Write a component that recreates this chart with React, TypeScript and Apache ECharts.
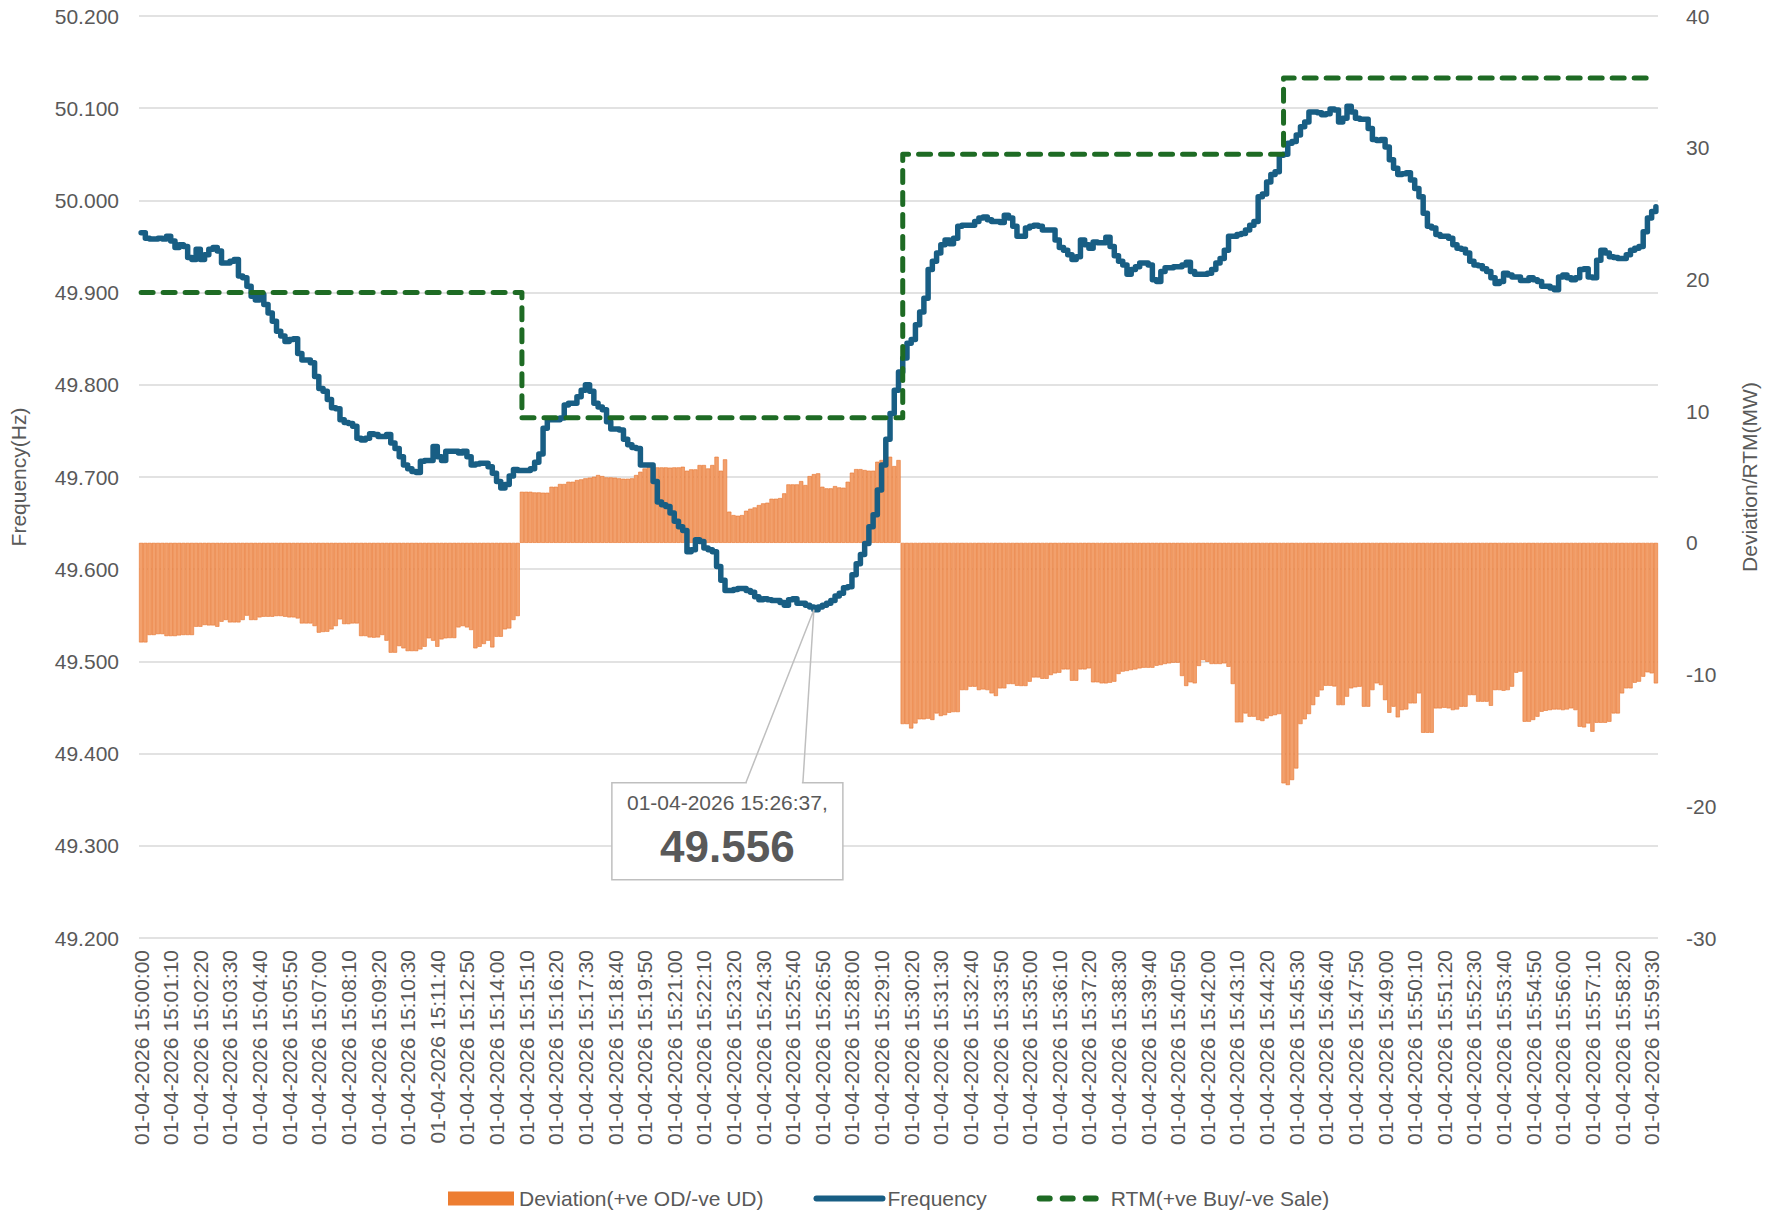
import React, { useEffect, useRef } from "react";
import * as echarts from "echarts";

// ---------- data ----------
const dateLabel = "01-04-2026";
const startHour = 15;
const slotSeconds = 10;

// Frequency (Hz), one value per 10-second slot from 15:00:00
const frequency: number[] = [
  49.965, 49.959, 49.958, 49.958, 49.959, 49.958, 49.961, 49.956, 49.949, 49.952,
  49.950, 49.938, 49.936, 49.947, 49.936, 49.941, 49.947, 49.949, 49.945, 49.932,
  49.932, 49.934, 49.936, 49.918, 49.916, 49.907, 49.896, 49.892, 49.898, 49.887,
  49.878, 49.869, 49.858, 49.853, 49.847, 49.849, 49.850, 49.834, 49.827, 49.827,
  49.824, 49.809, 49.796, 49.793, 49.784, 49.775, 49.774, 49.762, 49.759, 49.758,
  49.755, 49.742, 49.740, 49.742, 49.747, 49.746, 49.744, 49.744, 49.746, 49.737,
  49.731, 49.722, 49.713, 49.709, 49.706, 49.705, 49.717, 49.718, 49.718, 49.733,
  49.722, 49.718, 49.728, 49.728, 49.728, 49.726, 49.728, 49.722, 49.713, 49.714,
  49.715, 49.715, 49.711, 49.704, 49.695, 49.688, 49.692, 49.701, 49.708, 49.707,
  49.707, 49.707, 49.709, 49.716, 49.725, 49.753, 49.762, 49.762, 49.762, 49.764,
  49.778, 49.780, 49.780, 49.787, 49.794, 49.800, 49.793, 49.780, 49.776, 49.773,
  49.760, 49.752, 49.752, 49.751, 49.741, 49.735, 49.732, 49.731, 49.713, 49.713,
  49.713, 49.695, 49.673, 49.670, 49.668, 49.661, 49.652, 49.646, 49.642, 49.619,
  49.621, 49.632, 49.630, 49.623, 49.621, 49.619, 49.603, 49.588, 49.577, 49.577,
  49.578, 49.579, 49.579, 49.577, 49.575, 49.570, 49.567, 49.568, 49.567, 49.566,
  49.566, 49.564, 49.561, 49.567, 49.568, 49.563, 49.563, 49.561, 49.559, 49.556,
  49.559, 49.561, 49.563, 49.566, 49.571, 49.574, 49.580, 49.581, 49.594, 49.606,
  49.616, 49.628, 49.646, 49.659, 49.686, 49.713, 49.741, 49.769, 49.794, 49.814,
  49.829, 49.845, 49.849, 49.865, 49.879, 49.894, 49.925, 49.934, 49.943, 49.952,
  49.957, 49.953, 49.959, 49.972, 49.973, 49.973, 49.973, 49.977, 49.981, 49.982,
  49.979, 49.977, 49.977, 49.976, 49.984, 49.981, 49.972, 49.961, 49.961, 49.970,
  49.972, 49.973, 49.972, 49.968, 49.968, 49.968, 49.957, 49.949, 49.946, 49.941,
  49.936, 49.939, 49.957, 49.952, 49.948, 49.955, 49.954, 49.954, 49.960, 49.950,
  49.940, 49.934, 49.930, 49.920, 49.925, 49.928, 49.932, 49.932, 49.930, 49.914,
  49.912, 49.923, 49.927, 49.927, 49.928, 49.928, 49.930, 49.933, 49.923, 49.920,
  49.920, 49.920, 49.921, 49.925, 49.932, 49.937, 49.946, 49.961, 49.961, 49.963,
  49.964, 49.968, 49.973, 49.977, 50.004, 50.007, 50.020, 50.028, 50.031, 50.049,
  50.050, 50.062, 50.064, 50.071, 50.080, 50.085, 50.096, 50.096, 50.095, 50.093,
  50.094, 50.099, 50.098, 50.085, 50.089, 50.102, 50.096, 50.089, 50.088, 50.088,
  50.078, 50.066, 50.065, 50.066, 50.058, 50.044, 50.035, 50.028, 50.029, 50.030,
  50.022, 50.013, 50.004, 49.986, 49.972, 49.970, 49.963, 49.961, 49.961, 49.959,
  49.952, 49.948, 49.947, 49.943, 49.934, 49.930, 49.929, 49.926, 49.923, 49.916,
  49.910, 49.912, 49.921, 49.919, 49.917, 49.917, 49.913, 49.913, 49.916, 49.914,
  49.912, 49.907, 49.907, 49.905, 49.903, 49.917, 49.919, 49.916, 49.914, 49.916,
  49.925, 49.926, 49.917, 49.916, 49.935, 49.946, 49.943, 49.939, 49.938, 49.937,
  49.937, 49.941, 49.946, 49.948, 49.950, 49.966, 49.981, 49.988, 49.993,
];

// Deviation (MW), +ve over-drawal / -ve under-drawal
const deviation: number[] = [
  -7.56, -7.56, -7.00, -7.00, -6.93, -6.93, -7.08, -7.08, -7.08, -7.03,
  -7.00, -7.00, -7.00, -6.37, -6.37, -6.24, -6.27, -6.27, -6.37, -5.99,
  -5.86, -6.04, -6.04, -6.04, -5.86, -5.53, -5.86, -5.86, -5.66, -5.61,
  -5.61, -5.61, -5.56, -5.56, -5.61, -5.66, -5.66, -5.74, -6.12, -6.12,
  -6.12, -6.32, -6.82, -6.77, -6.75, -6.57, -6.32, -5.81, -6.17, -6.17,
  -6.12, -6.12, -7.08, -7.08, -7.18, -7.20, -7.18, -7.00, -7.43, -8.34,
  -8.34, -7.84, -8.01, -8.22, -8.22, -8.22, -8.09, -7.89, -7.25, -7.43,
  -7.89, -7.33, -7.25, -7.23, -7.23, -6.42, -6.32, -6.42, -6.62, -8.01,
  -7.89, -7.68, -7.43, -7.94, -7.13, -7.13, -6.57, -6.50, -5.86, -5.56,
  3.88, 3.88, 3.88, 3.83, 3.83, 3.81, 3.81, 4.26, 4.26, 4.47,
  4.47, 4.64, 4.64, 4.77, 4.82, 4.90, 4.95, 5.02, 5.15, 5.07,
  4.97, 4.97, 4.95, 4.90, 4.87, 4.87, 4.90, 5.15, 5.40, 5.65,
  5.78, 5.83, 5.73, 5.73, 5.73, 5.71, 5.73, 5.73, 5.78, 5.48,
  5.58, 5.58, 5.91, 5.91, 5.65, 5.91, 6.54, 5.48, 6.34, 2.37,
  2.11, 2.06, 2.11, 2.44, 2.59, 2.69, 2.87, 3.00, 3.05, 3.35,
  3.35, 3.40, 3.76, 4.44, 4.44, 4.44, 4.69, 4.39, 5.07, 5.22,
  5.28, 4.26, 4.14, 4.14, 4.31, 4.21, 4.19, 4.64, 5.33, 5.60,
  5.60, 5.53, 5.48, 5.48, 6.16, 6.29, 6.41, 6.54, 5.83, 6.29,
  -13.76, -13.76, -14.09, -13.71, -13.40, -13.40, -13.35, -13.45, -12.95, -13.15,
  -13.08, -12.90, -12.85, -12.85, -11.18, -11.18, -10.92, -10.92, -11.18, -11.13,
  -11.18, -11.43, -11.63, -11.05, -11.05, -10.72, -10.72, -10.85, -10.87, -10.87,
  -10.54, -10.22, -10.22, -10.32, -10.32, -10.04, -9.91, -9.86, -9.61, -9.61,
  -10.47, -10.47, -9.61, -9.61, -9.53, -10.59, -10.59, -10.67, -10.67, -10.62,
  -10.54, -9.96, -9.78, -9.73, -9.66, -9.61, -9.53, -9.48, -9.48, -9.48,
  -9.33, -9.28, -9.20, -9.15, -9.10, -9.10, -10.11, -10.87, -10.59, -10.67,
  -9.35, -8.90, -9.03, -9.20, -9.20, -9.20, -9.15, -9.41, -10.72, -13.63,
  -13.63, -12.95, -13.20, -13.20, -13.45, -13.53, -13.33, -13.15, -13.08, -13.00,
  -18.26, -18.39, -18.01, -17.13, -13.76, -13.40, -13.00, -12.32, -11.68, -11.20,
  -10.85, -10.85, -10.90, -12.32, -12.32, -11.68, -11.05, -10.97, -10.92, -12.44,
  -12.44, -11.18, -10.67, -10.80, -11.94, -12.90, -12.44, -13.25, -12.70, -12.65,
  -12.19, -12.19, -11.43, -14.42, -14.42, -14.42, -12.57, -12.57, -12.52, -12.57,
  -12.70, -12.65, -12.44, -12.44, -11.56, -11.56, -12.06, -12.06, -12.06, -12.37,
  -11.18, -11.18, -11.23, -11.18, -10.92, -9.86, -9.78, -13.58, -13.58, -13.45,
  -13.20, -12.82, -12.75, -12.70, -12.65, -12.65, -12.70, -12.65, -12.57, -12.70,
  -13.96, -14.01, -13.71, -14.34, -13.66, -13.66, -13.66, -13.58, -12.95, -12.95,
  -11.43, -11.05, -11.05, -10.62, -10.54, -10.16, -9.83, -9.91, -10.67,
];

// RTM schedule (MW), one value per 15-minute block
const rtmBlocks: number[] = [19, 9.5, 29.5, 35.3];
const slotsPerBlock = 90;

const freqAxis = { min: 49.2, max: 50.2, interval: 0.1 };
const mwAxis = { min: -30, max: 40, interval: 10 };

const seriesNames = ["Deviation(+ve OD/-ve UD)", "Frequency", "RTM(+ve Buy/-ve Sale)"];
const axisNames = ["Frequency(Hz)", "Deviation/RTM(MW)"];

const calloutIndex = 159;
const calloutTime = "01-04-2026 15:26:37";

// ---------- derived ----------
const pad = (n: number) => String(n).padStart(2, "0");
const categories = frequency.map((_, i) => {
  const s = i * slotSeconds;
  const h = startHour + Math.floor(s / 3600);
  const m = Math.floor((s % 3600) / 60);
  const sec = s % 60;
  return `${dateLabel} ${pad(h)}:${pad(m)}:${pad(sec)}`;
});
const rtm = frequency.map((_, i) => rtmBlocks[Math.min(rtmBlocks.length - 1, Math.floor(i / slotsPerBlock))]);

const FONT = "Liberation Sans, Arial, sans-serif";
const TEXT = "#595959";
const BLUE = "#185E84";
const GREEN = "#1E6B24";

export default function App() {
  const ref = useRef<HTMLDivElement>(null);
  useEffect(() => {
    if (!ref.current) return;
    const chart = echarts.init(ref.current, null, { renderer: "svg" });
    const option: any = {
      animation: false,
      backgroundColor: "#ffffff",
      textStyle: { fontFamily: FONT },
      grid: { left: 133, right: 111, top: 16, bottom: 281, containLabel: false },
      legend: {
        left: 443,
        top: 1183,
        itemWidth: 66,
        itemHeight: 14,
        itemGap: 50,
        textStyle: { color: TEXT, fontSize: 21, fontFamily: FONT },
        data: [
          { name: seriesNames[0], icon: "rect", itemStyle: { color: "#ED7D31", borderWidth: 0 } },
          { name: seriesNames[1], itemStyle: { opacity: 0 }, lineStyle: { width: 6, color: BLUE } },
          { name: seriesNames[2], itemStyle: { opacity: 0 }, lineStyle: { width: 6, color: GREEN, type: [10, 13], cap: "round" } },
        ],
      },
      xAxis: {
        type: "category",
        data: categories,
        boundaryGap: true,
        axisLine: { show: false },
        axisTick: { show: false },
        splitLine: { show: false },
        axisLabel: {
          interval: 6,
          rotate: 90,
          margin: 12,
          color: TEXT,
          fontSize: 21,
          fontFamily: FONT,
        },
      },
      yAxis: [
        {
          type: "value",
          min: freqAxis.min,
          max: freqAxis.max,
          interval: freqAxis.interval,
          name: axisNames[0],
          nameLocation: "middle",
          nameRotate: 90,
          nameGap: 110,
          nameTextStyle: { color: TEXT, fontSize: 21, fontFamily: FONT },
          axisLine: { show: false },
          axisTick: { show: false },
          splitLine: { show: true, lineStyle: { color: "#D9D9D9", width: 1.5 } },
          axisLabel: {
            margin: 20,
            color: TEXT,
            fontSize: 21,
            fontFamily: FONT,
            formatter: (v: number) => v.toFixed(3),
          },
        },
        {
          type: "value",
          position: "right",
          min: mwAxis.min,
          max: mwAxis.max,
          interval: mwAxis.interval,
          name: axisNames[1],
          nameLocation: "middle",
          nameRotate: 90,
          nameGap: 81,
          nameTextStyle: { color: TEXT, fontSize: 21, fontFamily: FONT },
          axisLine: { show: false },
          axisTick: { show: false },
          splitLine: { show: false },
          axisLabel: { margin: 28, color: TEXT, fontSize: 21, fontFamily: FONT },
        },
      ],
      series: [
        {
          name: seriesNames[0],
          type: "bar",
          yAxisIndex: 1,
          data: deviation,
          barCategoryGap: "0%",
          barGap: "0%",
          itemStyle: { color: "#F2A06C", borderColor: "#E8742E", borderWidth: 0.6 },
          z: 1,
        },
        {
          name: seriesNames[1],
          type: "line",
          yAxisIndex: 0,
          data: frequency,
          step: "end",
          showSymbol: false,
          symbol: "none",
          lineStyle: { color: BLUE, width: 5.5, cap: "round", join: "round" },
          itemStyle: { color: BLUE },
          z: 3,
        },
        {
          name: seriesNames[2],
          type: "line",
          yAxisIndex: 1,
          data: rtm,
          step: "end",
          showSymbol: false,
          symbol: "none",
          lineStyle: { color: GREEN, width: 5, type: [12, 10], cap: "round", join: "round" },
          itemStyle: { color: GREEN },
          z: 4,
        },
      ],
    };
    chart.setOption(option);

    const value = frequency[calloutIndex];
    const pt = chart.convertToPixel({ xAxisIndex: 0, yAxisIndex: 0 }, [calloutIndex, value]) as number[];
    const px = pt[0];
    const py = pt[1];
    const boxL = px - 202;
    const boxT = py + 173;
    const boxW = 231;
    const boxH = 97;
    chart.setOption({
      graphic: [
        {
          type: "rect",
          z: 100,
          shape: { x: boxL, y: boxT, width: boxW, height: boxH },
          style: { fill: "#ffffff", stroke: "#BFBFBF", lineWidth: 1.5 },
        },
        {
          type: "line",
          z: 101,
          shape: { x1: px - 67, y1: boxT, x2: px - 12, y2: boxT },
          style: { stroke: "#ffffff", lineWidth: 2.5 },
        },
        {
          type: "polyline",
          z: 102,
          shape: { points: [[px - 68, boxT], [px, py], [px - 11, boxT]] },
          style: { stroke: "#BFBFBF", lineWidth: 1.5, fill: null },
        },
        {
          type: "text",
          z: 103,
          x: boxL + boxW / 2,
          y: boxT + 20,
          style: {
            text: calloutTime + ",",
            fill: TEXT,
            fontSize: 21,
            fontFamily: FONT,
            align: "center",
            verticalAlign: "middle",
          },
        },
        {
          type: "text",
          z: 103,
          x: boxL + boxW / 2,
          y: boxT + 64,
          style: {
            text: value.toFixed(3),
            fill: TEXT,
            fontSize: 44,
            fontWeight: "bold",
            fontFamily: FONT,
            align: "center",
            verticalAlign: "middle",
          },
        },
      ],
    });
    return () => chart.dispose();
  }, []);

  return (
    <div
      ref={ref}
      style={{ position: "fixed", left: 0, top: 0, width: 1769, height: 1219, background: "#fff" }}
    />
  );
}
